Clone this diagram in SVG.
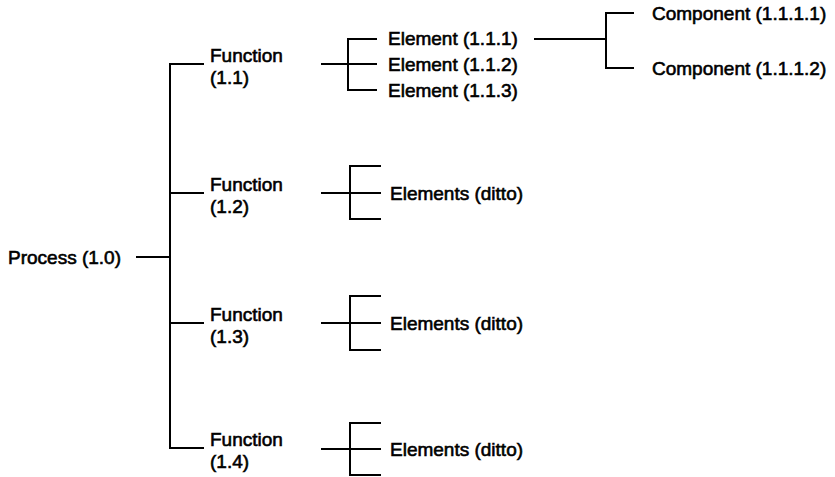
<svg xmlns="http://www.w3.org/2000/svg" width="835" height="477" viewBox="0 0 835 477">
  <style>
    .lbl { font-family: "Liberation Sans", Arial, sans-serif; font-size: 19px; fill: #000; stroke: #000; stroke-width: 0.6; }
    .ln { fill: none; stroke: #000; stroke-width: 2; stroke-linecap: square; }
  </style>
  <rect width="835" height="477" fill="#fff"/>

  <!-- connectors -->
  <g id="connectors" class="ln">
    <!-- process to functions -->
    <path d="M137 257 H170"/>
    <path d="M203 64 H170 V448 H203"/>
    <path d="M170 193 H203"/>
    <path d="M170 323 H203"/>
    <!-- function 1.1 to elements -->
    <path d="M322 64 H376"/>
    <path d="M376 39 H348 V90 H376"/>
    <!-- element 1.1.1 to components -->
    <path d="M535 39 H606"/>
    <path d="M633 13 H606 V68 H633"/>
    <!-- functions 1.2 - 1.4 to elements -->
    <path d="M322 193 H380"/>
    <path d="M380 166 H350 V219 H380"/>
    <path d="M322 323 H380"/>
    <path d="M380 296 H350 V350 H380"/>
    <path d="M322 449 H380"/>
    <path d="M380 423 H350 V475 H380"/>
  </g>

  <g id="process">
    <text class="lbl" x="8" y="264">Process (1.0)</text>
  </g>

  <g id="function-1-1">
    <text class="lbl" x="210" y="62">Function</text>
    <text class="lbl" x="210" y="84">(1.1)</text>
  </g>
  <g id="function-1-2">
    <text class="lbl" x="210" y="191">Function</text>
    <text class="lbl" x="210" y="213">(1.2)</text>
  </g>
  <g id="function-1-3">
    <text class="lbl" x="210" y="321">Function</text>
    <text class="lbl" x="210" y="343">(1.3)</text>
  </g>
  <g id="function-1-4">
    <text class="lbl" x="210" y="446">Function</text>
    <text class="lbl" x="210" y="468">(1.4)</text>
  </g>

  <g id="element-1-1-1">
    <text class="lbl" x="388" y="45">Element (1.1.1)</text>
  </g>
  <g id="element-1-1-2">
    <text class="lbl" x="388" y="71">Element (1.1.2)</text>
  </g>
  <g id="element-1-1-3">
    <text class="lbl" x="388" y="97">Element (1.1.3)</text>
  </g>

  <g id="component-1-1-1-1">
    <text class="lbl" x="652" y="20">Component (1.1.1.1)</text>
  </g>
  <g id="component-1-1-1-2">
    <text class="lbl" x="652" y="75">Component (1.1.1.2)</text>
  </g>

  <g id="elements-1-2">
    <text class="lbl" x="390" y="200">Elements (ditto)</text>
  </g>
  <g id="elements-1-3">
    <text class="lbl" x="390" y="330">Elements (ditto)</text>
  </g>
  <g id="elements-1-4">
    <text class="lbl" x="390" y="456">Elements (ditto)</text>
  </g>
</svg>
